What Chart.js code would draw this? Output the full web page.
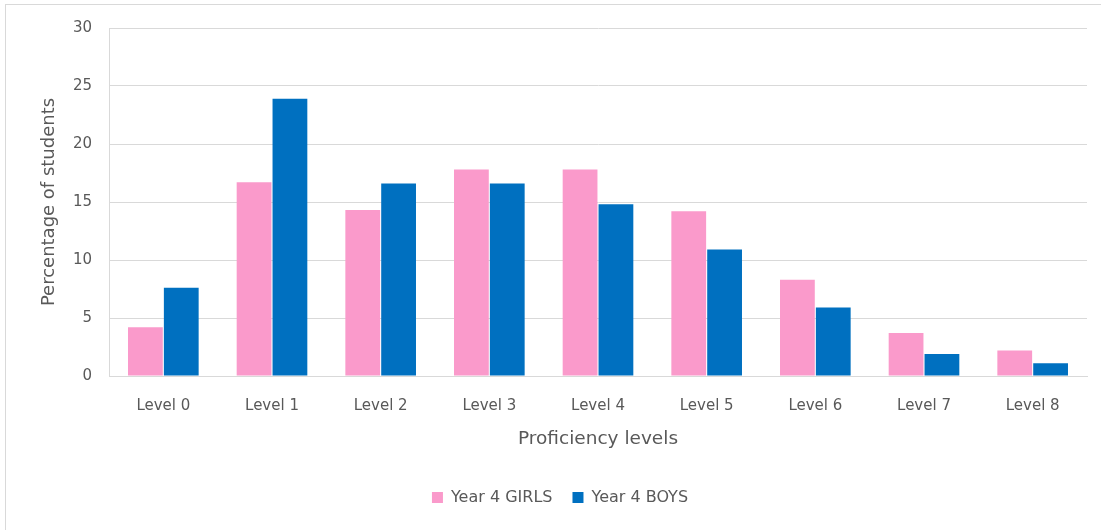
<!DOCTYPE html>
<html>
<head>
<meta charset="utf-8">
<script src="https://cdn.jsdelivr.net/npm/chart.js@4/dist/chart.umd.min.js"></script>
<style>
  html, body { margin: 0; padding: 0; background: #ffffff; }
  #wrap { position: relative; width: 1101px; height: 530px; overflow: hidden; }
  #frame { position: absolute; left: 5px; top: 4px; width: 1100px; height: 540px; border: 1px solid #d9d9d9; box-sizing: border-box; }
  canvas { position: absolute; left: 0; top: 0; }
</style>
</head>
<body>
<div id="wrap">
  <div id="frame"></div>
  <canvas id="c" width="1101" height="530"></canvas>
</div>
<script>
const categories = ["Level 0", "Level 1", "Level 2", "Level 3", "Level 4", "Level 5", "Level 6", "Level 7", "Level 8"];
const girls = [4.2, 16.7, 14.3, 17.8, 17.8, 14.2, 8.3, 3.7, 2.2];
const boys = [7.6, 23.9, 16.6, 16.6, 14.8, 10.9, 5.9, 1.9, 1.1];
const seriesNames = ["Year 4 GIRLS", "Year 4 BOYS"];
const yTicks = [0, 5, 10, 15, 20, 25, 30];

const textColor = "#595959";
const fontFamily = "'DejaVu Sans', 'Open Sans', sans-serif";

new Chart(document.getElementById("c"), {
  type: "bar",
  data: {
    labels: categories,
    datasets: [
      { label: seriesNames[0], data: girls, backgroundColor: "#FA9ACB", borderWidth: 0 },
      { label: seriesNames[1], data: boys, backgroundColor: "#0070C0", borderWidth: 0 }
    ]
  },
  options: {
    responsive: false,
    animation: false,
    devicePixelRatio: 1,
    layout: { padding: { left: 33, right: 14, top: 28, bottom: 14.5 } },
    datasets: { bar: { categoryPercentage: 0.66, barPercentage: 0.97 } },
    plugins: {
      tooltip: { enabled: false },
      legend: {
        position: "bottom",
        labels: {
          color: textColor,
          font: { family: fontFamily, size: 16 },
          boxWidth: 11,
          boxHeight: 11,
          padding: 20
        }
      }
    },
    scales: {
      x: {
        grid: { display: false, drawTicks: false },
        border: { display: true, color: "#d9d9d9" },
        ticks: { color: textColor, font: { family: fontFamily, size: 15 }, padding: 21 },
        title: {
          display: true,
          text: "Proficiency levels",
          color: textColor,
          font: { family: fontFamily, size: 18.5 },
          padding: { top: 0, bottom: 19 }
        },
        afterFit: (s) => { s.height = 93.5; }
      },
      y: {
        min: 0,
        max: 30,
        afterBuildTicks: (s) => { s.ticks = yTicks.map(v => ({ value: v })); },
        grid: { color: "#d9d9d9", drawTicks: false },
        border: { display: true, color: "#d9d9d9" },
        ticks: { color: textColor, font: { family: fontFamily, size: 15 }, padding: 17 },
        title: {
          display: true,
          text: "Percentage of students",
          color: textColor,
          font: { family: fontFamily, size: 18 },
          padding: { top: 6, bottom: 0 }
        },
        afterFit: (s) => { s.width = 76; }
      }
    }
  }
});
</script>
</body>
</html>
